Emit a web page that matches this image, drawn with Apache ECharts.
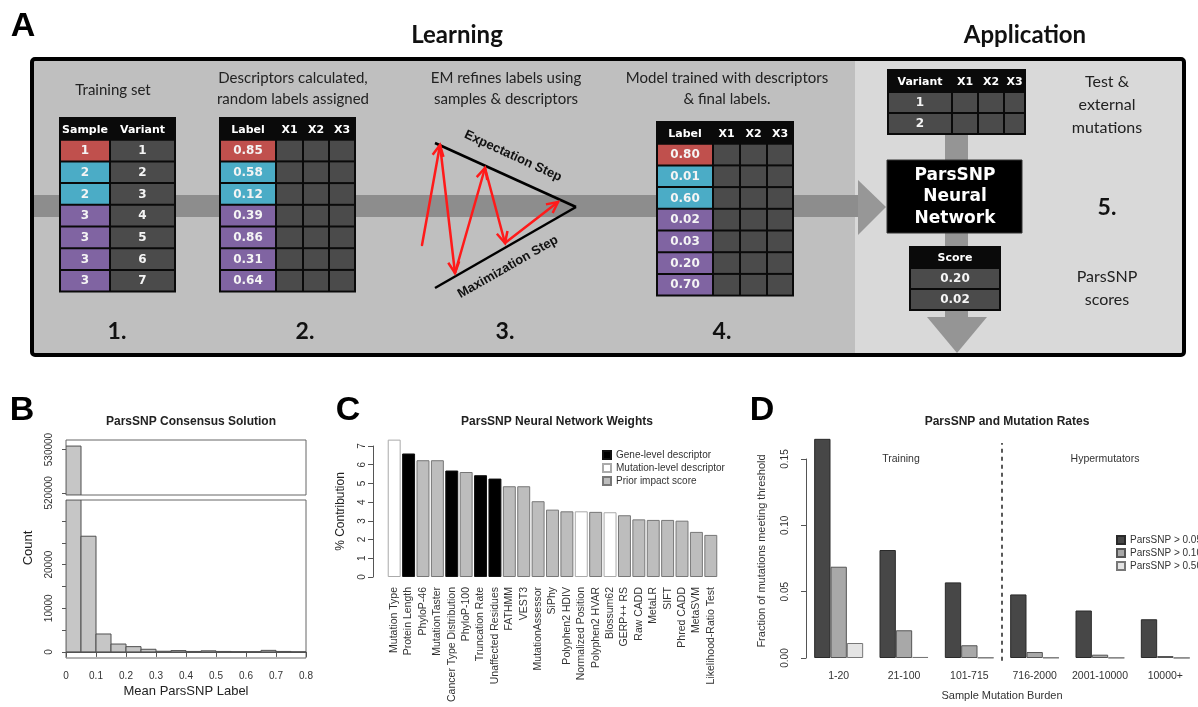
<!DOCTYPE html>
<html><head><meta charset="utf-8">
<script src="https://cdn.jsdelivr.net/npm/echarts@6/dist/echarts.min.js"></script>
<style>html,body{margin:0;padding:0;background:#fff}#c{width:1198px;height:707px}</style>
</head><body><div id="c"></div>
<script>
// ---------- Panel A (schematic) ----------
const trainSamples = ['1','2','2','3','3','3','3'];
const trainVariants = ['1','2','3','4','5','6','7'];
const initialLabels = ['0.85','0.58','0.12','0.39','0.86','0.31','0.64'];
const finalLabels = ['0.80','0.01','0.60','0.02','0.03','0.20','0.70'];
const testVariants = ['1','2'];
const testScores = ['0.20','0.02'];

// ---------- Panel B ----------
const histBinStarts = [0,0.05,0.1,0.15,0.2,0.25,0.3,0.35,0.4,0.45,0.5,0.55,0.6,0.65,0.7,0.75];
const histCounts = [530800,26500,4100,1800,1200,600,150,300,100,250,100,50,50,350,100,20];
const histTopTicks = [520000,530000];
const histBottomTicks = [0,5000,10000,15000,20000,25000,30000];
const histBottomLabels = [0,10000,20000];

// ---------- Panel C ----------
const featureNames = ['Mutation Type','Protein Length','PhyloP-46','MutationTaster','Cancer Type Distribution','PhyloP-100','Truncation Rate','Unaffected Residues','FATHMM','VEST3','MutationAssessor','SiPhy','Polyphen2 HDIV','Normalized Position','Polyphen2 HVAR','Blossum62','GERP++ RS','Raw CADD','MetaLR','SIFT','Phred CADD','MetaSVM','Likelihood-Ratio Test'];
const featureContrib = [7.34,6.60,6.24,6.24,5.69,5.61,5.44,5.26,4.85,4.85,4.05,3.60,3.51,3.51,3.48,3.46,3.30,3.08,3.05,3.05,3.01,2.41,2.25];
const featureType = ['M','G','P','P','G','P','G','G','P','P','P','P','P','M','P','M','P','P','P','P','P','P','P'];
const featureTypeNames = ['Gene-level descriptor','Mutation-level descriptor','Prior impact score'];
const featureTypeKeys = ['G','M','P'];

// ---------- Panel D ----------
const burdenGroups = ['1-20','21-100','101-715','716-2000','2001-10000','10000+'];
const thresholdNames = ['ParsSNP > 0.05','ParsSNP > 0.10','ParsSNP > 0.50'];
const frac005 = [0.1652,0.0814,0.0570,0.0479,0.0358,0.0292];
const frac010 = [0.0688,0.0209,0.0096,0.0045,0.0025,0.0015];
const frac050 = [0.0113,0.0008,0.0003,0.0003,0.0002,0.0001];
const dividerPos = 3;

// ---------- helpers ----------
const SANS = "'Liberation Sans', Arial, sans-serif";
const CAL = "Lato, 'Open Sans', sans-serif";
const TBL = "'DejaVu Sans', sans-serif";
const sampleColor = {'1':'#c0504d','2':'#4bacc6','3':'#8064a2'};
const CELL = '#4b4b4b';

function txt(x, y, text, font, fill, align, rot) {
  const el = {type:'text', x:x, y:y, style:{text:text, font:font, fill:fill||'#222',
    align:align||'center', textAlign:align||'center', verticalAlign:'middle', textVerticalAlign:'middle'}};
  if (rot) el.rotation = rot;
  return el;
}
function table(x0, y0, colW, headH, rowH, headers, columns, firstFills) {
  const els = [];
  const W = colW.reduce((a,b)=>a+b,0);
  const n = columns[0] ? columns[0].length : firstFills.length;
  els.push({type:'rect', shape:{x:x0-1, y:y0-1, width:W+2, height:headH+n*rowH+2}, style:{fill:'#0a0a0a'}});
  let x = x0;
  colW.forEach((w, c) => {
    els.push(txt(x + w/2, y0 + headH/2 + 1, headers[c], "bold 11px " + TBL, '#fff'));
    for (let r = 0; r < n; r++) {
      const y = y0 + headH + r*rowH;
      const fill = c === 0 ? firstFills[r] : CELL;
      els.push({type:'rect', shape:{x:x+1, y:y+1, width:w-2, height:rowH-2}, style:{fill:fill}});
      if (columns[c]) els.push(txt(x + w/2, y + rowH/2 + 0.5, columns[c][r], "bold 12px " + TBL, '#f4f4f4'));
    }
    x += w;
  });
  return els;
}
function redArrow(x1, y1, x2, y2) {
  const dx = x2-x1, dy = y2-y1, L = Math.hypot(dx,dy), ux = dx/L, uy = dy/L;
  const hl = 11, hw = 5.5;
  const bx = x2-ux*hl, by = y2-uy*hl;
  return [
    {type:'line', shape:{x1:x1,y1:y1,x2:x2,y2:y2}, style:{stroke:'#ff1a1a', lineWidth:2.5, lineCap:'round'}},
    {type:'polyline', shape:{points:[[bx-uy*hw, by+ux*hw],[x2,y2],[bx+uy*hw, by-ux*hw]]}, style:{stroke:'#ff1a1a', lineWidth:2.5, fill:null, lineJoin:'miter'}}
  ];
}

// ---------- build Panel A graphics ----------
const G = [];
G.push(txt(23, 27, 'A', "bold 34px " + SANS, '#000'));
G.push(txt(457, 35, 'Learning', "bold 24px " + CAL, '#111'));
G.push(txt(1025, 35, 'Application', "bold 24px " + CAL, '#111'));
// backgrounds
G.push({type:'rect', shape:{x:32, y:59, width:823, height:296}, style:{fill:'#bfbfbf'}});
G.push({type:'rect', shape:{x:855, y:59, width:329, height:296}, style:{fill:'#d9d9d9'}});
// horizontal band + arrow head
G.push({type:'rect', shape:{x:32, y:195, width:831, height:22}, style:{fill:'#8d8d8d'}});
G.push({type:'polygon', shape:{points:[[858,180],[886,207],[858,235]]}, style:{fill:'#979797'}});
// vertical band + arrow head
G.push({type:'rect', shape:{x:945, y:130, width:23, height:188}, style:{fill:'#959595'}});
G.push({type:'polygon', shape:{points:[[927,317],[987,317],[957,353]]}, style:{fill:'#959595'}});

// step captions
G.push(txt(113, 90, 'Training set', "15px " + CAL, '#222'));
G.push(txt(293, 78, 'Descriptors calculated,', "15px " + CAL, '#222'));
G.push(txt(293, 99, 'random labels assigned', "15px " + CAL, '#222'));
G.push(txt(506, 78, 'EM refines labels using', "15px " + CAL, '#222'));
G.push(txt(506, 99, 'samples & descriptors', "15px " + CAL, '#222'));
G.push(txt(727, 78, 'Model trained with descriptors', "15px " + CAL, '#222'));
G.push(txt(727, 99, '& final labels.', "15px " + CAL, '#222'));
G.push(txt(1107, 82, 'Test &', "16px " + CAL, '#222'));
G.push(txt(1107, 105, 'external', "16px " + CAL, '#222'));
G.push(txt(1107, 128, 'mutations', "16px " + CAL, '#222'));
G.push(txt(1107, 277, 'ParsSNP', "16px " + CAL, '#222'));
G.push(txt(1107, 300, 'scores', "16px " + CAL, '#222'));
// step numbers
[['1.',117],['2.',305],['3.',505],['4.',722]].forEach(s => G.push(txt(s[1], 332, s[0], "bold 23px " + CAL, '#111')));
G.push(txt(1107, 208, '5.', "bold 23px " + CAL, '#111'));

// tables
const sFill = trainSamples.map(s => sampleColor[s]);
G.push(...table(60, 118, [50,65], 21.7, 21.7, ['Sample','Variant'], [trainSamples, trainVariants], sFill));
G.push(...table(220, 118, [56,27,26,26], 21.7, 21.7, ['Label','X1','X2','X3'], [initialLabels,null,null,null], sFill));
G.push(...table(657, 122, [56,27,27,26], 21.7, 21.7, ['Label','X1','X2','X3'], [finalLabels,null,null,null], sFill));
G.push(...table(888, 70, [64,26,26,21], 22, 21, ['Variant','X1','X2','X3'], [testVariants,null,null,null], testVariants.map(()=>CELL)));
G.push(...table(910, 247, [90], 21, 21, ['Score'], [testScores], testScores.map(()=>CELL)));
// network box
G.push({type:'rect', shape:{x:887, y:160, width:135, height:73}, style:{fill:'#000', stroke:'#333', lineWidth:1}});
G.push(txt(955, 176, 'ParsSNP', "bold 17px " + TBL, '#fff'));
G.push(txt(955, 197, 'Neural', "bold 17px " + TBL, '#fff'));
G.push(txt(955, 219, 'Network', "bold 17px " + TBL, '#fff'));

// EM triangle
G.push({type:'line', shape:{x1:435,y1:143,x2:576,y2:207}, style:{stroke:'#000', lineWidth:2.5}});
G.push({type:'line', shape:{x1:435,y1:288,x2:576,y2:207}, style:{stroke:'#000', lineWidth:2.5}});
G.push(txt(513, 156, 'Expectation Step', "bold 13px " + SANS, '#111', 'center', -0.43));
G.push(txt(508, 267, 'Maximization Step', "bold 13px " + SANS, '#111', 'center', 0.52));
G.push(...redArrow(422,245,440,145));
G.push(...redArrow(440,145,455,273));
G.push(...redArrow(455,273,485,168));
G.push(...redArrow(485,168,505,243));
G.push(...redArrow(505,243,558,202));
// outer frame
G.push({type:'rect', shape:{x:32, y:59, width:1152, height:296, r:3}, style:{fill:null, stroke:'#000', lineWidth:4}});

// panel letters B, C, D & free texts
G.push(txt(22, 411, 'B', "bold 34px " + SANS, '#000'));
G.push(txt(348, 411, 'C', "bold 34px " + SANS, '#000'));
G.push(txt(762, 411, 'D', "bold 34px " + SANS, '#000'));
G.push(txt(28, 548, 'Count', "13px " + SANS, '#222', 'center', Math.PI/2));
G.push(txt(762, 551, 'Fraction of mutations meeting threshold', "11px " + SANS, '#333', 'center', Math.PI/2));
G.push(txt(901, 459, 'Training', "10.5px " + SANS, '#333'));
G.push(txt(1105, 459, 'Hypermutators', "10.5px " + SANS, '#333'));

// ---------- charts ----------
function histRender(params, api) {
  const x0 = api.value(0), v = api.value(1);
  const p0 = api.coord([x0, v]);
  const p1 = api.coord([x0 + 0.05, 0]);
  const cs = params.coordSys;
  const rect = echarts.graphic.clipRectByRect(
    {x:p0[0], y:p0[1], width:p1[0]-p0[0], height:p1[1]-p0[1]},
    {x:cs.x, y:cs.y, width:cs.width, height:cs.height});
  return rect && {type:'rect', shape:rect, style:{fill:'#c6c6c6', stroke:'#4f4f4f', lineWidth:1}};
}
const histData = histBinStarts.map((b,i) => [b, histCounts[i]]);
const plain = v => String(v);

const axisTxt = {color:'#333', fontFamily:SANS};
const option = {
  animation:false,
  backgroundColor:'#fff',
  title:[
    {text:'ParsSNP Consensus Solution', left:186, top:411, textAlign:'center', textStyle:{fontSize:12, fontWeight:'bold', color:'#222', fontFamily:SANS}},
    {text:'ParsSNP Neural Network Weights', left:552, top:411, textAlign:'center', textStyle:{fontSize:12, fontWeight:'bold', color:'#222', fontFamily:SANS}},
    {text:'ParsSNP and Mutation Rates', left:1002, top:411, textAlign:'center', textStyle:{fontSize:12, fontWeight:'bold', color:'#222', fontFamily:SANS}}
  ],
  grid:[
    {left:66, top:440, width:240, height:55, show:true, borderColor:'#666', borderWidth:1, backgroundColor:'transparent'},
    {left:66, top:500, width:240, height:158, show:true, borderColor:'#666', borderWidth:1, backgroundColor:'transparent'},
    {left:387, top:446, width:331, height:131},
    {left:806, top:459, width:393, height:199}
  ],
  xAxis:[
    {type:'value', gridIndex:0, min:0, max:0.8, show:false},
    {type:'value', gridIndex:1, min:0, max:0.8, interval:0.1, offset:4,
     axisLine:{show:true, lineStyle:{color:'#555'}}, axisTick:{show:true, length:5, lineStyle:{color:'#555'}},
     splitLine:{show:false}, axisLabel:Object.assign({fontSize:10, margin:9, showMinLabel:true, showMaxLabel:true}, axisTxt),
     name:'Mean ParsSNP Label', nameLocation:'middle', nameGap:23, nameTextStyle:{fontSize:13, color:'#222', fontFamily:SANS}},
    {type:'category', gridIndex:2, data:featureNames, axisLine:{show:false}, axisTick:{show:false},
     axisLabel:Object.assign({rotate:90, interval:0, fontSize:10.5, margin:10}, axisTxt)},
    {type:'category', gridIndex:3, data:burdenGroups, axisLine:{show:false}, axisTick:{show:false},
     axisLabel:Object.assign({interval:0, fontSize:10.5, margin:13}, axisTxt),
     name:'Sample Mutation Burden', nameLocation:'middle', nameGap:32, nameTextStyle:{fontSize:11, color:'#333', fontFamily:SANS}},
    {type:'value', gridIndex:3, min:0, max:burdenGroups.length, show:false}
  ],
  yAxis:[
    {type:'value', gridIndex:0, min:519500, max:532200, splitLine:{show:false}, axisLine:{show:false},
     axisTick:{show:true, length:4, customValues:histTopTicks, lineStyle:{color:'#555'}},
     axisLabel:Object.assign({rotate:90, fontSize:10, margin:12, customValues:histTopTicks, formatter:plain}, axisTxt)},
    {type:'value', gridIndex:1, min:-1400, max:34800, splitLine:{show:false}, axisLine:{show:false},
     axisTick:{show:true, length:4, customValues:histBottomTicks, lineStyle:{color:'#555'}},
     axisLabel:Object.assign({rotate:90, fontSize:10, margin:12, customValues:histBottomLabels, formatter:plain}, axisTxt)},
    {type:'value', gridIndex:2, min:0, max:7, interval:1, offset:14, splitLine:{show:false},
     axisLine:{show:true, lineStyle:{color:'#555'}}, axisTick:{show:true, length:5, lineStyle:{color:'#555'}},
     axisLabel:Object.assign({rotate:90, fontSize:10, margin:6}, axisTxt),
     name:'% Contribution', nameLocation:'middle', nameGap:26, nameTextStyle:{fontSize:12, color:'#222', fontFamily:SANS}},
    {type:'value', gridIndex:3, min:0, max:0.15, interval:0.05, offset:7, splitLine:{show:false},
     axisLine:{show:true, lineStyle:{color:'#555'}}, axisTick:{show:true, length:5, lineStyle:{color:'#555'}},
     axisLabel:Object.assign({rotate:90, fontSize:10, margin:9, formatter:v => v.toFixed(2)}, axisTxt)}
  ],
  legend:[
    {data:featureTypeNames, left:597, top:445, orient:'vertical', itemWidth:8, itemHeight:8, itemGap:3,
     icon:'rect', textStyle:{fontSize:10, color:'#333', fontFamily:SANS}, selectedMode:false},
    {data:thresholdNames, left:1111, top:530, orient:'vertical', itemWidth:8, itemHeight:8, itemGap:3,
     icon:'rect', textStyle:{fontSize:10, color:'#333', fontFamily:SANS}, selectedMode:false}
  ],
  series:[
    {type:'custom', xAxisIndex:0, yAxisIndex:0, renderItem:histRender, data:histData, clip:true},
    {type:'custom', xAxisIndex:1, yAxisIndex:1, renderItem:histRender, data:histData, clip:true},
  ].concat(featureTypeKeys.map((k, j) => ({
    type:'bar', name:featureTypeNames[j], xAxisIndex:2, yAxisIndex:2, stack:'feat', clip:false,
    barCategoryGap:'10%',
    itemStyle:{color:['#000000','#ffffff','#bdbdbd'][j], borderColor:['#111','#aaa','#777'][j], borderWidth:1},
    data:featureContrib.map((v,i) => featureType[i] === k ? v : '-')
  }))).concat([frac005, frac010, frac050].map((arr, j) => ({
    type:'bar', name:thresholdNames[j], xAxisIndex:3, yAxisIndex:3, clip:false,
    barGap:0, barCategoryGap:'25%',
    itemStyle:{color:['#474747','#a8a8a8','#e4e4e4'][j], borderColor:['#2a2a2a','#555','#777'][j], borderWidth:1},
    data:arr
  }))).concat([{
    type:'line', xAxisIndex:4, yAxisIndex:3, clip:false, symbol:'none', silent:true,
    lineStyle:{color:'#222', width:1.5, type:[4,4]},
    data:[[dividerPos,-0.002],[dividerPos,0.162]]
  }]),
  graphic:{elements:G}
};
const chart = echarts.init(document.getElementById('c'), null, {renderer:'canvas'});
chart.setOption(option);
</script></body></html>
